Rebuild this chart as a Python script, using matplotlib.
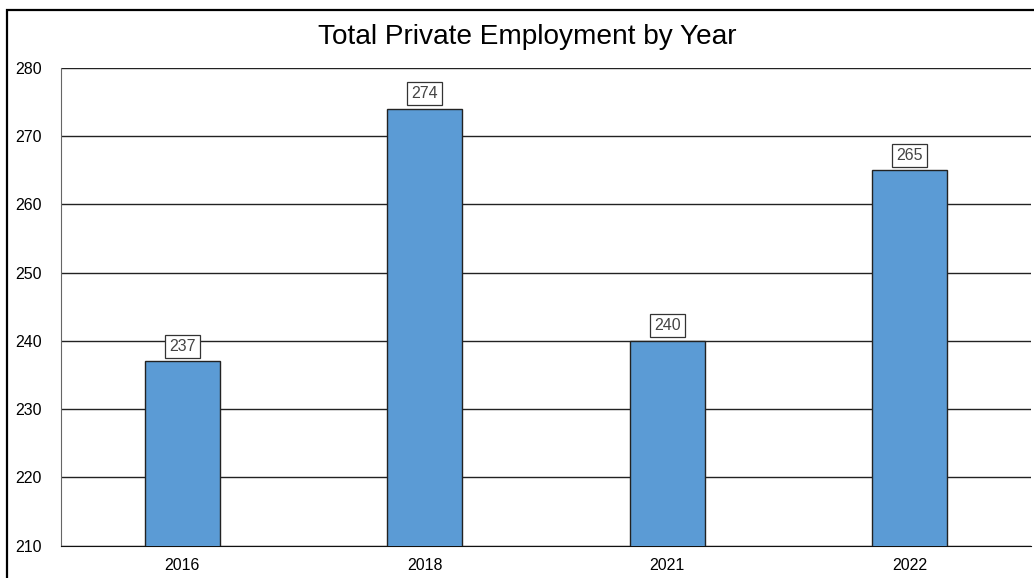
import matplotlib.pyplot as plt
from matplotlib.patches import Rectangle

years = ["2016", "2018", "2021", "2022"]
employment = [237, 274, 240, 265]
y_ticks = [210, 220, 230, 240, 250, 260, 270, 280]

plt.rcParams["font.family"] = ["Liberation Sans", "DejaVu Sans"]

fig = plt.figure(figsize=(10.34, 5.78), dpi=100)
ax = fig.add_axes([61 / 1034, 1 - 545.5 / 578, 970 / 1034, 477.5 / 578])

x = range(len(years))
bars = ax.bar(x, employment, width=0.31, color="#5b9bd5",
              edgecolor="#222222", linewidth=1, zorder=3)

for b, v in zip(bars, employment):
    ax.annotate(str(v), (b.get_x() + b.get_width() / 2, v),
                xytext=(0, 5.5), textcoords="offset points",
                ha="center", va="bottom", fontsize=11.5, color="#444444",
                bbox=dict(boxstyle="square,pad=0.26", fc="white",
                          ec="#333333", lw=0.9), zorder=4)

ax.set_xlim(-0.5, 3.5)
ax.set_ylim(210, 280)
ax.set_xticks(list(x))
ax.set_xticklabels(years)
ax.set_yticks(y_ticks)
ax.tick_params(axis="both", length=0, labelsize=11.5)
ax.tick_params(axis="y", pad=14)
ax.tick_params(axis="x", pad=9)
ax.yaxis.grid(True, color="#222222", linewidth=1, zorder=0)
for side in ["top", "right"]:
    ax.spines[side].set_visible(False)
ax.spines["left"].set_color("#666666")
ax.spines["bottom"].set_color("#111111")

fig.text(527 / 1034, 1 - 37 / 578, "Total Private Employment by Year",
         ha="center", va="center", fontsize=20.2)

# outer frame, cut off at the right and bottom like the original
fig.patches.append(Rectangle((6.5 / 1034, -0.05), 1.1, 1 - 9.5 / 578 + 0.05,
                             transform=fig.transFigure, fill=False,
                             edgecolor="black", linewidth=1.6))

fig.savefig("out.png", dpi=100)
